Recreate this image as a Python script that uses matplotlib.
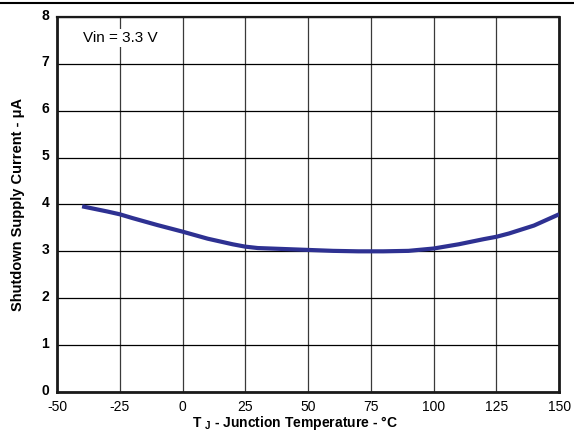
import matplotlib
matplotlib.use("Agg")
import matplotlib.pyplot as plt
from matplotlib.lines import Line2D
from matplotlib.transforms import ScaledTranslation

plt.rcParams["font.family"] = ["Liberation Sans", "DejaVu Sans"]
plt.rcParams["mathtext.fontset"] = "custom"
plt.rcParams["mathtext.rm"] = "Liberation Sans"
plt.rcParams["mathtext.bf"] = "Liberation Sans:bold"

# shutdown supply current vs junction temperature (Vin = 3.3 V)
temp_c = [-40, -30, -25, -20, -10, 0, 10, 20, 25, 30, 40, 50, 60,
          70, 80, 90, 100, 110, 120, 125, 130, 140, 150]
i_sd_ua = [3.96, 3.85, 3.79, 3.71, 3.56, 3.42, 3.27, 3.15, 3.10, 3.07, 3.05, 3.03, 3.01,
           3.00, 3.00, 3.01, 3.06, 3.15, 3.26, 3.31, 3.38, 3.55, 3.79]
x_ticks = [-50, -25, 0, 25, 50, 75, 100, 125, 150]
y_ticks = [0, 1, 2, 3, 4, 5, 6, 7, 8]

fig = plt.figure(figsize=(5.74, 4.33), dpi=100)
ax = fig.add_axes([0.0993, 0.0947, 0.8747, 0.8663])

ax.plot(temp_c, i_sd_ua, color="#2e3192", lw=3.0, solid_capstyle="butt", zorder=3)

ax.set_xlim(-50, 150)
ax.set_ylim(0, 8)
ax.set_xticks(x_ticks)
ax.set_yticks(y_ticks)
ax.set_xticklabels([str(v) for v in x_ticks], fontsize=10)
ax.set_yticklabels([str(v) for v in y_ticks], fontsize=10, fontweight="bold")
ax.tick_params(axis="x", length=0, pad=5.5)
ax.tick_params(axis="y", length=0, pad=5.5)
# y labels sit a touch above their grid lines
_up = ScaledTranslation(0, 2.0 / 72, fig.dpi_scale_trans)
for lab in ax.get_yticklabels():
    lab.set_transform(lab.get_transform() + _up)

ax.grid(True, axis="y", color="black", lw=0.9)
ax.grid(True, axis="x", color="#3a3a3a", lw=0.9)
ax.set_axisbelow(True)

for side in ["left", "bottom", "right"]:
    ax.spines[side].set_linewidth(2.0)
ax.spines["top"].set_linewidth(1.6)
for s in ax.spines.values():
    s.set_color("#1a1a1a")

# condition note; white box breaks the grid line behind it
ax.text(-39.6, 7.55, "Vin = 3.3 V", fontsize=11, ha="left", va="center",
        bbox=dict(facecolor="white", edgecolor="none", pad=1.5), zorder=4)

ax.set_xlabel(r"T $_\mathbf{J}$ - Junction Temperature - °C", fontsize=10,
              fontweight="bold")
ax.xaxis.set_label_coords(0.474, -0.059)
ax.set_ylabel("Shutdown Supply Current - μA", fontsize=10.5, fontweight="bold")
ax.yaxis.set_label_coords(-0.064, 0.499)

# rule across the top of the page
fig.add_artist(Line2D([0, 1], [0.994, 0.994], color="black", lw=1.5,
                      transform=fig.transFigure))

fig.savefig("out.png", dpi=100)
